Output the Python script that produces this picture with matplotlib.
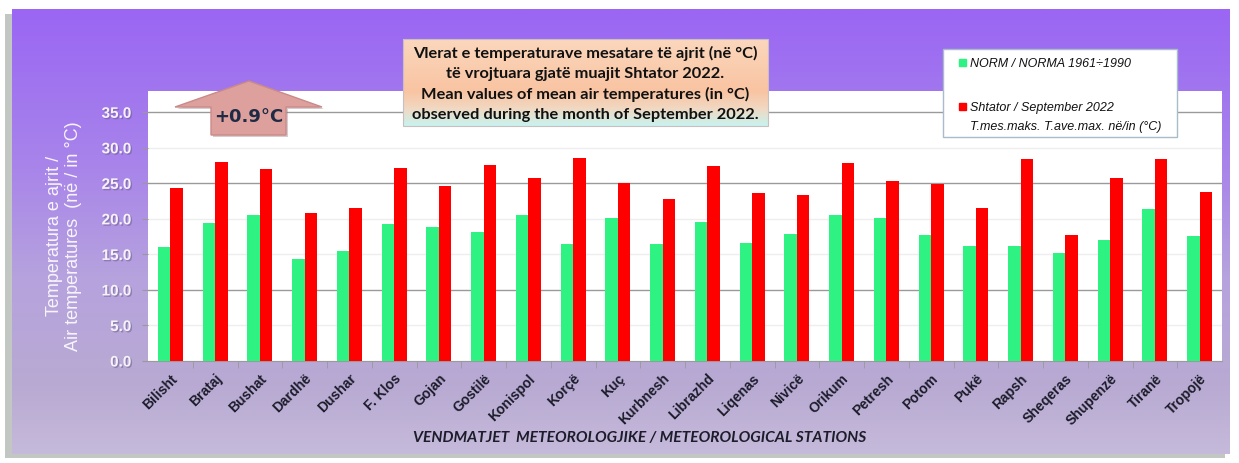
import numpy as np
import matplotlib.pyplot as plt
from matplotlib.patches import Polygon, Rectangle
from matplotlib.colors import LinearSegmentedColormap
import matplotlib.patheffects as pe

stations = ['Bilisht', 'Brataj', 'Bushat', 'Dardhë', 'Dushar', 'F. Klos', 'Gojan',
            'Gostilë', 'Konispol', 'Korçë', 'Kuç', 'Kurbnesh', 'Librazhd', 'Liqenas',
            'Nivicë', 'Orikum', 'Petresh', 'Potom', 'Pukë', 'Rapsh', 'Sheqeras',
            'Shupenzë', 'Tiranë', 'Tropojë']
norm = [16.0, 19.4, 20.5, 14.3, 15.5, 19.3, 18.8, 18.1, 20.5, 16.4, 20.1, 16.4,
        19.6, 16.6, 17.9, 20.5, 20.1, 17.7, 16.2, 16.2, 15.2, 17.0, 21.4, 17.6]
sep2022 = [24.3, 28.0, 27.0, 20.8, 21.5, 27.1, 24.6, 27.6, 25.8, 28.6, 25.1, 22.8,
           27.4, 23.7, 23.4, 27.8, 25.3, 24.9, 21.6, 28.5, 17.7, 25.8, 28.5, 23.8]
yticks = [0, 5, 10, 15, 20, 25, 30, 35]
anomaly = '+0.9°C'

W, H = 1239, 464
fig = plt.figure(figsize=(W / 100, H / 100), dpi=100)
fig.patch.set_facecolor('white')

# background panel (pixel coords)
bg = fig.add_axes([0, 0, 1, 1], zorder=0)
bg.set_xlim(0, W)
bg.set_ylim(H, 0)
bg.axis('off')
bg.add_patch(Rectangle((5, 15), 1220, 444, color='#a9b0aa', alpha=0.7, lw=0, zorder=0))
panel_cmap = LinearSegmentedColormap.from_list('panel', [
    (0.0, '#9a66f4'), (0.35, '#a884ea'), (0.6, '#b6a2de'),
    (0.85, '#b8aad2'), (1.0, '#c6badb')])
grad = np.linspace(0, 1, 256).reshape(-1, 1)
bg.imshow(grad, cmap=panel_cmap, aspect='auto', extent=[12, 1230, 455, 10], zorder=1)
bg.set_xlim(0, W)
bg.set_ylim(H, 0)

# main chart
ax = fig.add_axes([148 / W, 1 - 362 / H, (1222 - 148) / W, (362 - 92) / H], zorder=1)
ax.set_facecolor('white')
x = np.arange(len(stations))
w = 0.28
ax.bar(x - w / 2, norm, w, color='#2ef282', zorder=3)
ax.bar(x + w / 2, sep2022, w, color='#ff0000', zorder=3)
ax.set_xlim(-0.5, len(stations) - 0.5)
ax.set_ylim(0, 38)
ax.set_yticks(yticks)
ax.set_yticklabels([f'{v:.1f}' for v in yticks], fontsize=11, fontweight='bold',
                   family='Liberation Sans', color='#f6f2fa',
                   path_effects=[pe.withSimplePatchShadow(offset=(1, -1), shadow_rgbFace='#6a5a8a', alpha=0.5)])
ax.tick_params(axis='y', length=4, color='#999999', pad=8)
ax.yaxis.grid(True, zorder=0)
dark = {35, 25, 10}
for t, line in zip(yticks, ax.get_ygridlines()):
    line.set_color('#9a9a9a' if t in dark else '#eeeeee')
    line.set_linewidth(1.0)
ax.set_axisbelow(True)

ax.set_xticks(x)
ax.set_xticklabels(stations, rotation=45, ha='right', rotation_mode='anchor',
                   fontsize=10, fontweight='bold', family='Liberation Sans', color='#1c1c2a')
ax.set_xticks(x[:-1] + 0.5, minor=True)
ax.tick_params(axis='x', which='major', length=0, pad=7)
ax.tick_params(axis='x', which='minor', length=5, color='#999999')
for s in ['top', 'right', 'left']:
    ax.spines[s].set_visible(False)
ax.spines['bottom'].set_color('#9a9a9a')

# overlay: labels, title box, legend, arrow
ov = fig.add_axes([0, 0, 1, 1], zorder=5)
ov.set_facecolor('none')
ov.axis('off')

ov.text(64, 236, 'Temperatura e ajrit /\nAir temperatures  (në / in °C)', rotation=90,
        ha='center', va='center', multialignment='center', fontsize=13,
        family='Liberation Sans', color='#f7f4fb', linespacing=1.15)

ov.text(640, 438, 'VENDMATJET  METEOROLOGJIKE / METEOROLOGICAL STATIONS',
        ha='center', va='center', fontsize=11.2, family='Lato', style='italic',
        fontweight='bold', color='#1c1c2a')

# title box with gradient
title_cmap = LinearSegmentedColormap.from_list('title', [
    (0.0, '#fbd7bd'), (0.6, '#f9c4a2'), (0.8, '#f1d8c2'), (1.0, '#c9f2ef')])
ov.imshow(grad, cmap=title_cmap, aspect='auto', extent=[403, 768, 127, 40], zorder=2)
ov.add_patch(Rectangle((403, 40), 365, 87, fill=False, ec='#c8c0c0', lw=0.8, zorder=3))
ov.text(585.5, 84, 'Vlerat e temperaturave mesatare të ajrit (në °C)\n'
        'të vrojtuara gjatë muajit Shtator 2022.\n'
        'Mean values of mean air temperatures (in °C)\n'
        'observed during the month of September 2022.',
        ha='center', va='center', fontsize=11.8, family='Lato', fontweight='bold',
        color='#111111', linespacing=1.5, zorder=4)

# legend box
ov.add_patch(Rectangle((943, 50), 234, 88, fc='white', ec='#a9bccb', lw=1, zorder=2))
ov.add_patch(Rectangle((959, 60), 7, 7, color='#2ef282', zorder=3))
ov.text(970, 64, 'NORM / NORMA 1961÷1990', ha='left', va='center', fontsize=9,
        family='Liberation Sans', style='italic', color='#111111', zorder=3)
ov.add_patch(Rectangle((959, 104), 7, 7, color='#ff0000', zorder=3))
ov.text(970, 108, 'Shtator / September 2022', ha='left', va='center', fontsize=9,
        family='Liberation Sans', style='italic', color='#111111', zorder=3)
ov.text(970, 127, 'T.mes.maks. T.ave.max. në/in (°C)', ha='left', va='center', fontsize=9,
        family='Liberation Sans', style='italic', color='#111111', zorder=3)

# up arrow with anomaly
arrow_pts = [(249, 82), (322, 108), (286, 108), (286, 136), (211, 136), (211, 108), (175, 108)]
shadow_pts = [(px + 2, py + 2) for px, py in arrow_pts]
ov.add_patch(Polygon(shadow_pts, closed=True, fc='#8a6a70', alpha=0.35, lw=0, zorder=2))
ov.add_patch(Polygon(arrow_pts, closed=True, fc='#dea09c', ec='#c98a88', lw=1, zorder=3))
ov.text(249, 117, anomaly, ha='center', va='center', fontsize=13, fontweight='bold',
        color='#1f2b45', zorder=4)

ov.set_xlim(0, W)
ov.set_ylim(H, 0)

fig.savefig('out.png', dpi=100)
